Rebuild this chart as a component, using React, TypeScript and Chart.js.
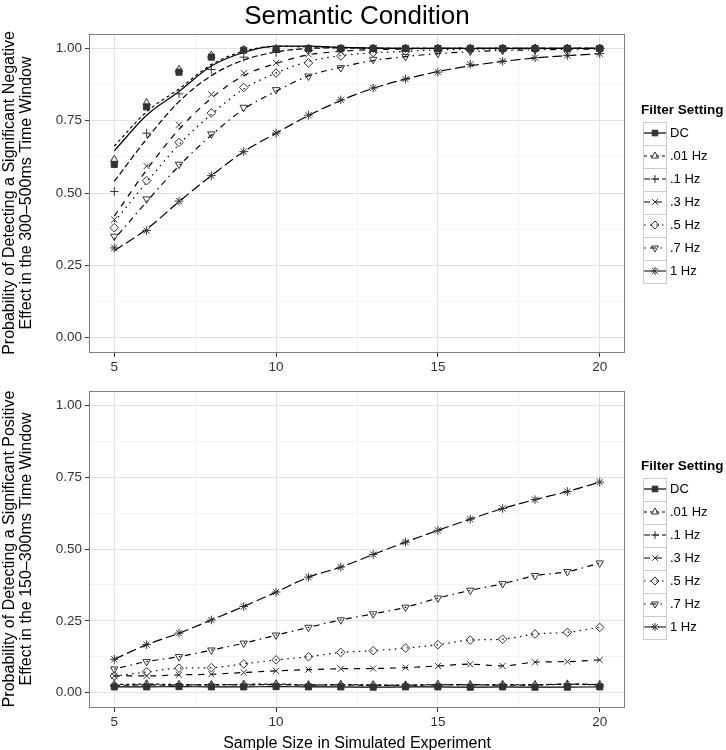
import React, { useEffect, useRef } from 'react';
import { Chart, registerables } from 'chart.js';
import { drawPoint } from 'chart.js/helpers';

Chart.register(...registerables);

// ---------------- data ----------------
const sampleSizes = [5, 6, 7, 8, 9, 10, 11, 12, 13, 14, 15, 16, 17, 18, 19, 20];
const filterSettings = ['DC', '.01 Hz', '.1 Hz', '.3 Hz', '.5 Hz', '.7 Hz', '1 Hz'];
const xTickValues = [5, 7.5, 10, 12.5, 15, 17.5, 20];
const yTickValues = [0, 0.125, 0.25, 0.375, 0.5, 0.625, 0.75, 0.875, 1];

// Top panel: negative effect 300–500 ms, observed points
const negDC = [0.599, 0.798, 0.918, 0.970, 0.994, 0.998, 1, 1, 1, 1, 1, 1, 1, 1, 1, 1];
const neg001 = [0.616, 0.812, 0.927, 0.976, 0.996, 0.999, 1, 1, 1, 1, 1, 1, 1, 1, 1, 1];
const neg01 = [0.505, 0.707, 0.843, 0.927, 0.970, 0.986, 0.995, 0.998, 1, 1, 1, 1, 1, 1, 1, 1];
const neg03 = [0.408, 0.593, 0.736, 0.841, 0.915, 0.950, 0.980, 0.990, 0.995, 0.998, 1, 1, 1, 1, 1, 1];
const neg05 = [0.380, 0.543, 0.675, 0.777, 0.865, 0.915, 0.950, 0.974, 0.986, 0.990, 0.995, 0.997, 0.998, 1, 1, 1];
const neg07 = [0.350, 0.479, 0.599, 0.704, 0.796, 0.857, 0.904, 0.933, 0.962, 0.972, 0.983, 0.990, 0.993, 0.995, 0.997, 0.998];
const neg1 = [0.310, 0.370, 0.472, 0.560, 0.643, 0.707, 0.769, 0.822, 0.863, 0.894, 0.918, 0.945, 0.956, 0.968, 0.976, 0.982];

// Top panel: fitted curves
const fitNegDC = [0.646, 0.769, 0.851, 0.939, 0.986, 1.008, 1.008, 1.004, 1.001, 1, 1, 1, 1, 1, 1, 1];
const fitNeg001 = [0.662, 0.781, 0.860, 0.944, 0.990, 1.007, 1.006, 1.003, 1.001, 1, 1, 1, 1, 1, 1, 1];
const fitNeg01 = [0.540, 0.687, 0.816, 0.906, 0.960, 0.988, 1.0, 1.002, 1.001, 1, 1, 1, 1, 1, 1, 1];
const fitNeg03 = [0.420, 0.580, 0.720, 0.828, 0.906, 0.948, 0.978, 0.990, 0.996, 0.998, 1, 1, 1, 1, 1, 1];
const fitNeg05 = [0.400, 0.537, 0.668, 0.772, 0.860, 0.915, 0.955, 0.975, 0.985, 0.990, 0.995, 0.997, 0.998, 0.999, 1, 1];
const fitNeg07 = [0.340, 0.470, 0.594, 0.700, 0.790, 0.852, 0.905, 0.935, 0.958, 0.972, 0.982, 0.989, 0.993, 0.995, 0.997, 0.998];
const fitNeg1 = [0.300, 0.375, 0.470, 0.560, 0.643, 0.707, 0.768, 0.820, 0.862, 0.894, 0.920, 0.940, 0.955, 0.967, 0.975, 0.982];

// Bottom panel: positive effect 150–300 ms
const posDC = [0.020, 0.020, 0.021, 0.020, 0.020, 0.021, 0.020, 0.020, 0.019, 0.020, 0.020, 0.019, 0.020, 0.019, 0.019, 0.020];
const pos001 = [0.028, 0.030, 0.028, 0.027, 0.029, 0.030, 0.027, 0.028, 0.027, 0.026, 0.028, 0.027, 0.028, 0.027, 0.029, 0.027];
const pos01 = [0.025, 0.027, 0.026, 0.028, 0.027, 0.028, 0.026, 0.027, 0.025, 0.026, 0.027, 0.028, 0.026, 0.027, 0.030, 0.028];
const pos03 = [0.058, 0.058, 0.062, 0.064, 0.070, 0.076, 0.080, 0.083, 0.084, 0.087, 0.093, 0.099, 0.093, 0.106, 0.108, 0.114];
const pos05 = [0.058, 0.072, 0.085, 0.087, 0.100, 0.114, 0.125, 0.140, 0.146, 0.155, 0.167, 0.183, 0.186, 0.204, 0.210, 0.227];
const pos07 = [0.082, 0.108, 0.125, 0.148, 0.172, 0.200, 0.227, 0.253, 0.274, 0.297, 0.329, 0.356, 0.379, 0.407, 0.421, 0.451];
const pos1 = [0.116, 0.167, 0.207, 0.253, 0.300, 0.350, 0.402, 0.437, 0.481, 0.524, 0.565, 0.604, 0.641, 0.672, 0.700, 0.733];

const negPoints = [negDC, neg001, neg01, neg03, neg05, neg07, neg1];
const negFits = [fitNegDC, fitNeg001, fitNeg01, fitNeg03, fitNeg05, fitNeg07, fitNeg1];
const posPoints = [posDC, pos001, pos01, pos03, pos05, pos07, pos1];

// ---------------- styles ----------------
const FONT = '"Liberation Sans", Arial, Helvetica, sans-serif';
const POINT_COLOR = '#333333';
const seriesStyles = [
  { dash: [], pointStyle: 'rect', rotation: 0, filled: true },
  { dash: [3, 3], pointStyle: 'triangle', rotation: 0, filled: false },
  { dash: [6, 3], pointStyle: 'cross', rotation: 0, filled: false },
  { dash: [6, 6], pointStyle: 'crossRot', rotation: 0, filled: false },
  { dash: [1.5, 4.5], pointStyle: 'rectRot', rotation: 0, filled: false },
  { dash: [1.5, 4.5, 6, 4.5], pointStyle: 'triangle', rotation: 180, filled: false },
  { dash: [10, 4], pointStyle: 'star', rotation: 0, filled: false },
];
const POINT_RADIUS = 4.3;

const isMajorX = (v: number) => Math.abs(v % 5) < 1e-9;
const isMajorY = (v: number) => Math.abs((v * 4) % 1) < 1e-9;

function buildDatasets(points: number[][], fits: number[][]) {
  const lines = fits.map((f, i) => ({
    type: 'line',
    data: sampleSizes.map((x, j) => ({ x, y: f[j] })),
    borderColor: '#000',
    borderWidth: 1.2,
    borderDash: seriesStyles[i].dash,
    pointRadius: 0,
    fill: false,
    cubicInterpolationMode: 'monotone',
    order: 2,
  }));
  const pts = points.map((p, i) => ({
    type: 'line',
    data: sampleSizes.map((x, j) => ({ x, y: p[j] })),
    showLine: false,
    pointStyle: seriesStyles[i].pointStyle,
    pointRotation: seriesStyles[i].rotation,
    pointRadius: POINT_RADIUS,
    pointBorderWidth: 1,
    pointBorderColor: POINT_COLOR,
    pointBackgroundColor: seriesStyles[i].filled ? POINT_COLOR : 'rgba(0,0,0,0)',
    order: 1,
  }));
  return [...lines, ...pts];
}

function drawLegend(ctx: CanvasRenderingContext2D, area: any) {
  const rowH = 23;
  const cy = (area.top + area.bottom) / 2;
  const rowsTop = cy - (rowH * filterSettings.length) / 2 + 9;
  const kx = 643;
  const kw = 23;
  ctx.save();
  ctx.textAlign = 'left';
  ctx.textBaseline = 'middle';
  ctx.fillStyle = '#000';
  ctx.font = `bold 13.5px ${FONT}`;
  ctx.fillText('Filter Setting', 641, rowsTop - 11);
  filterSettings.forEach((lab, i) => {
    const st = seriesStyles[i];
    const y0 = rowsTop + i * rowH;
    const yc = y0 + rowH / 2;
    ctx.fillStyle = '#fff';
    ctx.fillRect(kx, y0, kw, rowH);
    ctx.setLineDash([]);
    ctx.strokeStyle = '#cccccc';
    ctx.lineWidth = 1;
    ctx.strokeRect(kx + 0.5, Math.round(y0) + 0.5, kw, rowH);
    ctx.strokeStyle = '#000';
    ctx.lineWidth = 1.2;
    ctx.setLineDash(st.dash);
    ctx.beginPath();
    ctx.moveTo(kx + 1, yc);
    ctx.lineTo(kx + kw, yc);
    ctx.stroke();
    ctx.setLineDash([]);
    ctx.strokeStyle = POINT_COLOR;
    ctx.fillStyle = st.filled ? POINT_COLOR : 'rgba(0,0,0,0)';
    ctx.lineWidth = 1;
    drawPoint(ctx, { pointStyle: st.pointStyle, rotation: st.rotation, radius: 4, borderWidth: 1 } as any, kx + kw / 2 + 0.5, yc);
    ctx.fillStyle = '#000';
    ctx.font = `13px ${FONT}`;
    ctx.fillText(lab, 670, yc + 0.5);
  });
  ctx.restore();
}

function makePanelPlugin(withMainTitle: boolean) {
  return {
    id: 'panelDecor',
    afterDraw(chart: any) {
      const { ctx, chartArea: a } = chart;
      ctx.save();
      ctx.setLineDash([]);
      ctx.strokeStyle = '#7f7f7f';
      ctx.lineWidth = 1;
      ctx.strokeRect(Math.round(a.left) - 0.5, Math.round(a.top) + 0.5, Math.round(a.right - a.left) + 1, Math.round(a.bottom - a.top));
      if (withMainTitle) {
        ctx.fillStyle = '#000';
        ctx.font = `26px ${FONT}`;
        ctx.textAlign = 'center';
        ctx.textBaseline = 'middle';
        ctx.fillText('Semantic Condition', (a.left + a.right) / 2, 17);
      }
      ctx.restore();
      drawLegend(ctx, a);
    },
  };
}

function makeConfig(opts: {
  points: number[][];
  fits: number[][];
  yTitle: string[];
  xTitle: string | null;
  padding: any;
  xHeight: number;
  mainTitle: boolean;
}) {
  return {
    type: 'line',
    data: { datasets: buildDatasets(opts.points, opts.fits) },
    options: {
      responsive: false,
      animation: false,
      devicePixelRatio: 1,
      layout: { padding: opts.padding, autoPadding: false },
      plugins: { legend: { display: false }, tooltip: { enabled: false }, title: { display: false } },
      scales: {
        x: {
          type: 'linear',
          min: 4.25,
          max: 20.75,
          afterBuildTicks: (scale: any) => {
            scale.ticks = xTickValues.map((v) => ({ value: v }));
          },
          afterFit: (scale: any) => {
            scale.height = opts.xHeight;
          },
          border: { display: false },
          grid: {
            color: (c: any) => (isMajorX(c.tick.value) ? '#e3e3e3' : '#f4f4f4'),
            lineWidth: 1,
            tickLength: 5,
            tickWidth: 1,
            tickColor: (c: any) => (isMajorX(c.tick.value) ? '#333' : 'rgba(0,0,0,0)'),
          },
          ticks: {
            autoSkip: false,
            maxRotation: 0,
            padding: 2,
            color: '#333',
            font: { family: FONT, size: 13.5 },
            callback: (v: number) => (isMajorX(v) ? String(v) : ''),
          },
          title: {
            display: !!opts.xTitle,
            text: opts.xTitle || '',
            color: '#000',
            font: { family: FONT, size: 16, lineHeight: 1 },
            padding: { top: 0, bottom: -2 },
          },
        },
        y: {
          type: 'linear',
          min: -0.05,
          max: 1.05,
          afterBuildTicks: (scale: any) => {
            scale.ticks = yTickValues.map((v) => ({ value: v }));
          },
          afterFit: (scale: any) => {
            scale.width = 90;
          },
          border: { display: false },
          grid: {
            color: (c: any) => (isMajorY(c.tick.value) ? '#e3e3e3' : '#f4f4f4'),
            lineWidth: 1,
            tickLength: 5,
            tickWidth: 1,
            tickColor: (c: any) => (isMajorY(c.tick.value) ? '#333' : 'rgba(0,0,0,0)'),
          },
          ticks: {
            autoSkip: false,
            padding: 3,
            color: '#333',
            font: { family: FONT, size: 13.5 },
            callback: (v: number) => (isMajorY(v) ? v.toFixed(2) : ''),
          },
          title: {
            display: true,
            text: opts.yTitle,
            color: '#000',
            font: { family: FONT, size: 16, lineHeight: 1.06 },
            padding: { top: 1, bottom: 0 },
          },
        },
      },
    },
    plugins: [makePanelPlugin(opts.mainTitle)],
  };
}

export default function App() {
  const topRef = useRef<HTMLCanvasElement>(null);
  const botRef = useRef<HTMLCanvasElement>(null);

  useEffect(() => {
    const top = new Chart(
      topRef.current as HTMLCanvasElement,
      makeConfig({
        points: negPoints,
        fits: negFits,
        yTitle: ['Probability of Detecting a Significant Negative', 'Effect in the 300\u2013500ms Time Window'],
        xTitle: null,
        padding: { top: 34, left: 0, right: 102, bottom: 2 },
        xHeight: 36,
        mainTitle: true,
      }) as any
    );
    const bot = new Chart(
      botRef.current as HTMLCanvasElement,
      makeConfig({
        points: posPoints,
        fits: posPoints,
        yTitle: ['Probability of Detecting a Significant Positive', 'Effect in the 150\u2013300ms Time Window'],
        xTitle: 'Sample Size in Simulated Experiment',
        padding: { top: 21, left: 0, right: 102, bottom: 0 },
        xHeight: 43,
        mainTitle: false,
      }) as any
    );
    return () => {
      top.destroy();
      bot.destroy();
    };
  }, []);

  return (
    <div style={{ position: 'fixed', left: 0, top: 0, width: 726, height: 750, background: '#fff', overflow: 'hidden' }}>
      <canvas ref={topRef} width={726} height={390} style={{ position: 'absolute', left: 0, top: 0, width: 726, height: 390 }} />
      <canvas ref={botRef} width={726} height={380} style={{ position: 'absolute', left: 0, top: 370, width: 726, height: 380 }} />
    </div>
  );
}
